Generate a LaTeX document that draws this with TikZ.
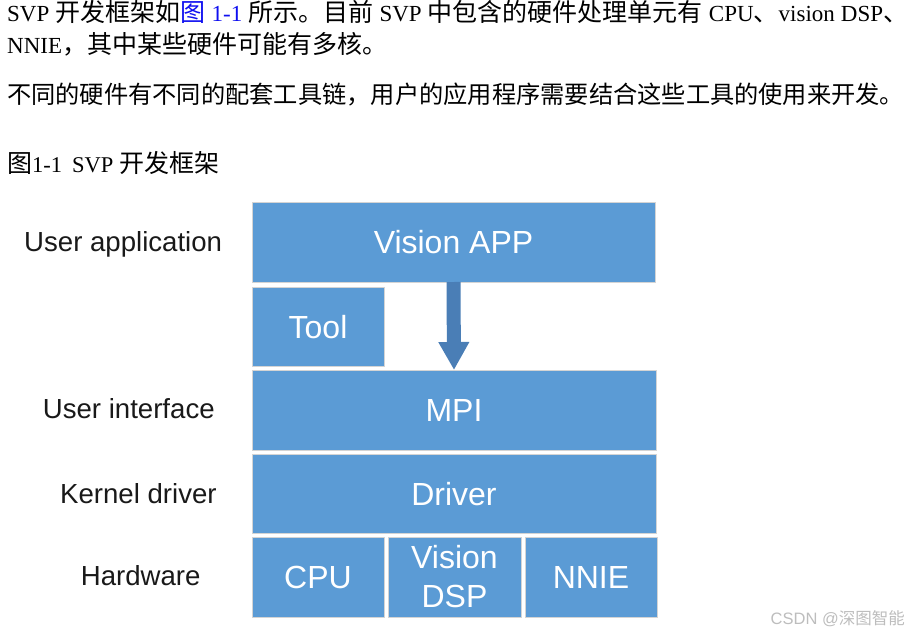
\documentclass[tikz,border=0pt]{standalone}
\usepackage{fontspec}
\usepackage{graphicx}
\setmainfont{Liberation Serif}
\newfontfamily\cjkfont{Noto Sans CJK SC}
\newfontfamily\arialf{Liberation Sans}
\usetikzlibrary{arrows.meta}
\definecolor{boxblue}{HTML}{5B9BD5}
\definecolor{arrowblue}{HTML}{4A7EB6}
\definecolor{boxedge}{HTML}{D4D4D4}
\definecolor{wmgray}{HTML}{BDBDBD}
\definecolor{linkblue}{HTML}{1010F0}
\newcommand\zh[1]{{\cjkfont\fontsize{25}{30}\selectfont #1}}
\begin{document}
\begin{tikzpicture}[x=1pt,y=-1pt,
  layerbase/.style={draw=boxedge, line width=0.8pt, fill=boxblue, inner sep=0pt, outer sep=0pt,
     text=white, font=\arialf\fontsize{32}{39}\selectfont, align=center},
  layerbox/.style={layerbase, text height=23pt, text depth=0pt},
  sidelabel/.style={anchor=base west, inner sep=0pt, text=black!90, font=\arialf\fontsize{27.6}{32}\selectfont},
  para/.style={anchor=base west, inner sep=0pt, font=\fontsize{23}{28}\selectfont},
  ]
\useasboundingbox (0,0) rectangle (910,632);

% paragraph text
\node[para] (line1) at (7,21.5) {\makebox[901pt][s]{SVP \zh{开发框架如}\textcolor{linkblue}{\zh{图} 1-1} \zh{所示。目前} SVP \zh{中包含的硬件处理单元有} CPU\zh{、}vision DSP\zh{、}}};
\node[para] (line2) at (7,53) {NNIE\zh{，其中某些硬件可能有多核。}};
\node[para] (line3) at (7,103.5) {\resizebox{897pt}{!}{\zh{不同的硬件有不同的配套工具链，用户的应用程序需要结合这些工具的使用来开发。}}};
\node[anchor=base west, inner sep=0pt] (caption) at (7,172) {\fontsize{22.5}{25}\selectfont\zh{图}1-1\hspace{10pt}SVP \zh{开发框架}};

% layers
\node[layerbox, minimum width=403pt, minimum height=80pt] (app) at (453.5,242) {Vision APP};
\node[layerbox, minimum width=132pt, minimum height=79pt] (tool) at (318,326.5) {Tool};
\node[layerbox, minimum width=404pt, minimum height=80pt] (mpi) at (454,410) {MPI};
\node[layerbox, minimum width=404pt, minimum height=79pt] (drv) at (454,493.5) {Driver};
\node[layerbox, minimum width=132pt, minimum height=80pt] (cpu) at (318,577) {CPU};
\node[layerbase, minimum width=133pt, minimum height=80pt] (dsp) at (454.5,577) {Vision\\DSP};
\node[layerbox, minimum width=132pt, minimum height=80pt] (nnie) at (591,577) {NNIE};

% arrow
\draw[arrowblue, line width=14pt, -{Triangle[width=29pt,length=28pt]}] (app.south) -- (mpi.north);

% side labels
\node[sidelabel] (lapp) at (24,251) {User application};
\node[sidelabel] (lui) at (42.7,418.3) {User interface};
\node[sidelabel] (lkd) at (60,503) {Kernel driver};
\node[sidelabel] (lhw) at (80.7,585) {Hardware};

% watermark
\node[anchor=base east, inner sep=0pt, text=wmgray] (wm) at (905,624) {\arialf\fontsize{16.5}{20}\selectfont CSDN @{\cjkfont 深图智能}};
\end{tikzpicture}
\end{document}
